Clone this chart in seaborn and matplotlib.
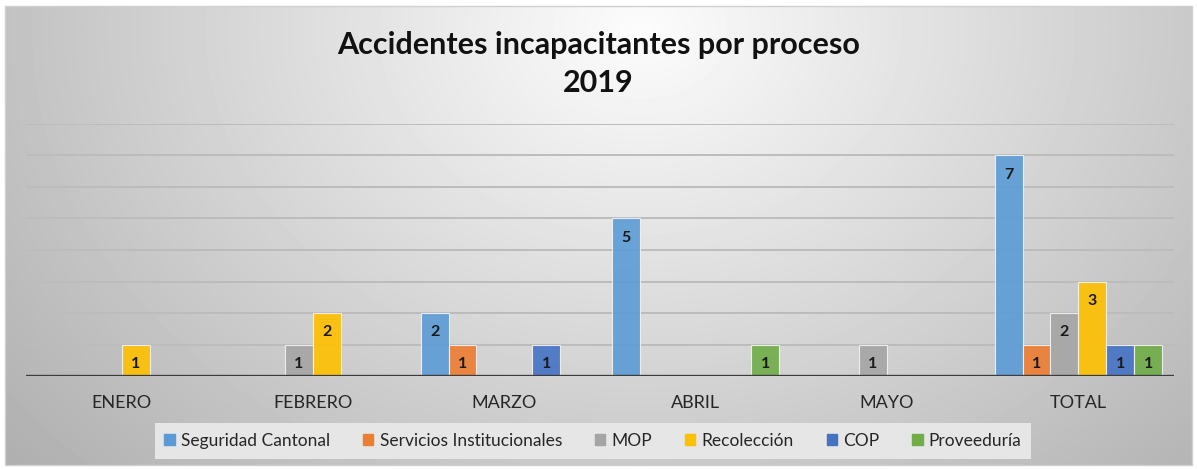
#!/usr/bin/env python3
"""Accidentes incapacitantes por proceso 2019 - grouped bar chart."""

import matplotlib

matplotlib.use("Agg")
import matplotlib.pyplot as plt
import numpy as np
import pandas as pd
import seaborn as sns
from matplotlib.patches import Rectangle

MONTHS = ["ENERO", "FEBRERO", "MARZO", "ABRIL", "MAYO", "TOTAL"]
PROCESSES = [
    "Seguridad Cantonal",
    "Servicios Institucionales",
    "MOP",
    "Recolección",
    "COP",
    "Proveeduría",
]
SEGURIDAD = [0, 0, 2, 5, 0, 7]
SERVICIOS = [0, 0, 1, 0, 0, 1]
MOP = [0, 1, 0, 0, 1, 2]
RECOLECCION = [1, 2, 0, 0, 0, 3]
COP = [0, 0, 1, 0, 0, 1]
PROVEEDURIA = [0, 0, 0, 1, 0, 1]
COLORS = ["#5B9BD5", "#ED7D31", "#A5A5A5", "#FFC000", "#4472C4", "#70AD47"]

W, H = 1197, 469


def main():
    series = [SEGURIDAD, SERVICIOS, MOP, RECOLECCION, COP, PROVEEDURIA]
    df = pd.concat(
        [pd.DataFrame({"mes": MONTHS, "proceso": p, "valor": v}) for p, v in zip(PROCESSES, series)],
        ignore_index=True,
    )

    sns.set_style("white")
    plt.rcParams["font.family"] = ["Lato", "DejaVu Sans"]

    fig = plt.figure(figsize=(W / 100, H / 100), dpi=100)

    # gray radial-ish background like the Excel chart area
    bg = fig.add_axes([0, 0, 1, 1], zorder=0)
    yy, xx = np.mgrid[0:H, 0:W]
    d = np.sqrt(((xx - 640) / 600.0) ** 2 + ((yy - 30) / 470.0) ** 2)
    grad = np.clip(252 - 55 * d, 0, 255)
    grad[:6, :] = 255
    grad[-4:, :] = 255
    grad[:, :5] = 255
    grad[:, -5:] = 255
    bg.imshow(grad, cmap="gray", vmin=0, vmax=255, aspect="auto", extent=(0, W, H, 0))
    bg.add_patch(Rectangle((5, 6), W - 10, H - 10, fill=False, edgecolor="#d0d0d0", lw=1))
    bg.set_xlim(0, W)
    bg.set_ylim(H, 0)
    bg.axis("off")

    ax = fig.add_axes([26 / W, 1 - 376 / H, 1148 / W, 252 / H], zorder=1)
    ax.patch.set_alpha(0)

    sns.barplot(
        data=df, x="mes", y="valor", hue="proceso",
        order=MONTHS, hue_order=PROCESSES, palette=COLORS,
        width=0.875, saturation=1, errorbar=None, legend=False,
        alpha=0.9, edgecolor="#f4f4f4", linewidth=0.8, ax=ax, zorder=2,
    )

    for cont in ax.containers:
        labels = [str(int(b.get_height())) if b.get_height() > 0 else "" for b in cont]
        ax.bar_label(cont, labels=labels, padding=-19, fontsize=11.5,
                     fontweight="bold", color="#1a1a1a")

    ax.set_ylim(0, 8)
    ax.set_yticks(range(0, 9))
    ax.yaxis.grid(True, color="#bcbcbc", lw=1.4, zorder=0)
    ax.set_axisbelow(True)
    ax.axhline(0, color="#3c3c3c", lw=2.4, zorder=3)
    ax.tick_params(axis="y", left=False, labelleft=False)
    ax.tick_params(axis="x", bottom=False, labelsize=13, pad=10, colors="#262626")
    ax.set_xlabel("")
    ax.set_ylabel("")
    sns.despine(ax=ax, left=True, bottom=True)

    fig.text(0.5, 1 - 64 / H, "Accidentes incapacitantes por proceso\n2019",
             ha="center", va="center", fontsize=22, fontweight="bold",
             color="#111111", linespacing=1.45)

    handles = [Rectangle((0, 0), 1, 1, color=c) for c in COLORS]
    fig.legend(
        handles, PROCESSES, loc="center", bbox_to_anchor=(593 / W, 1 - 441 / H),
        ncol=6, frameon=True, facecolor="#e6e6e6", edgecolor="none",
        framealpha=1, fancybox=False, fontsize=12.5, handlelength=0.6,
        handleheight=0.6, handletextpad=0.35, columnspacing=1.9, borderpad=0.55,
    )

    fig.savefig("out.png", dpi=100)


if __name__ == "__main__":
    main()
